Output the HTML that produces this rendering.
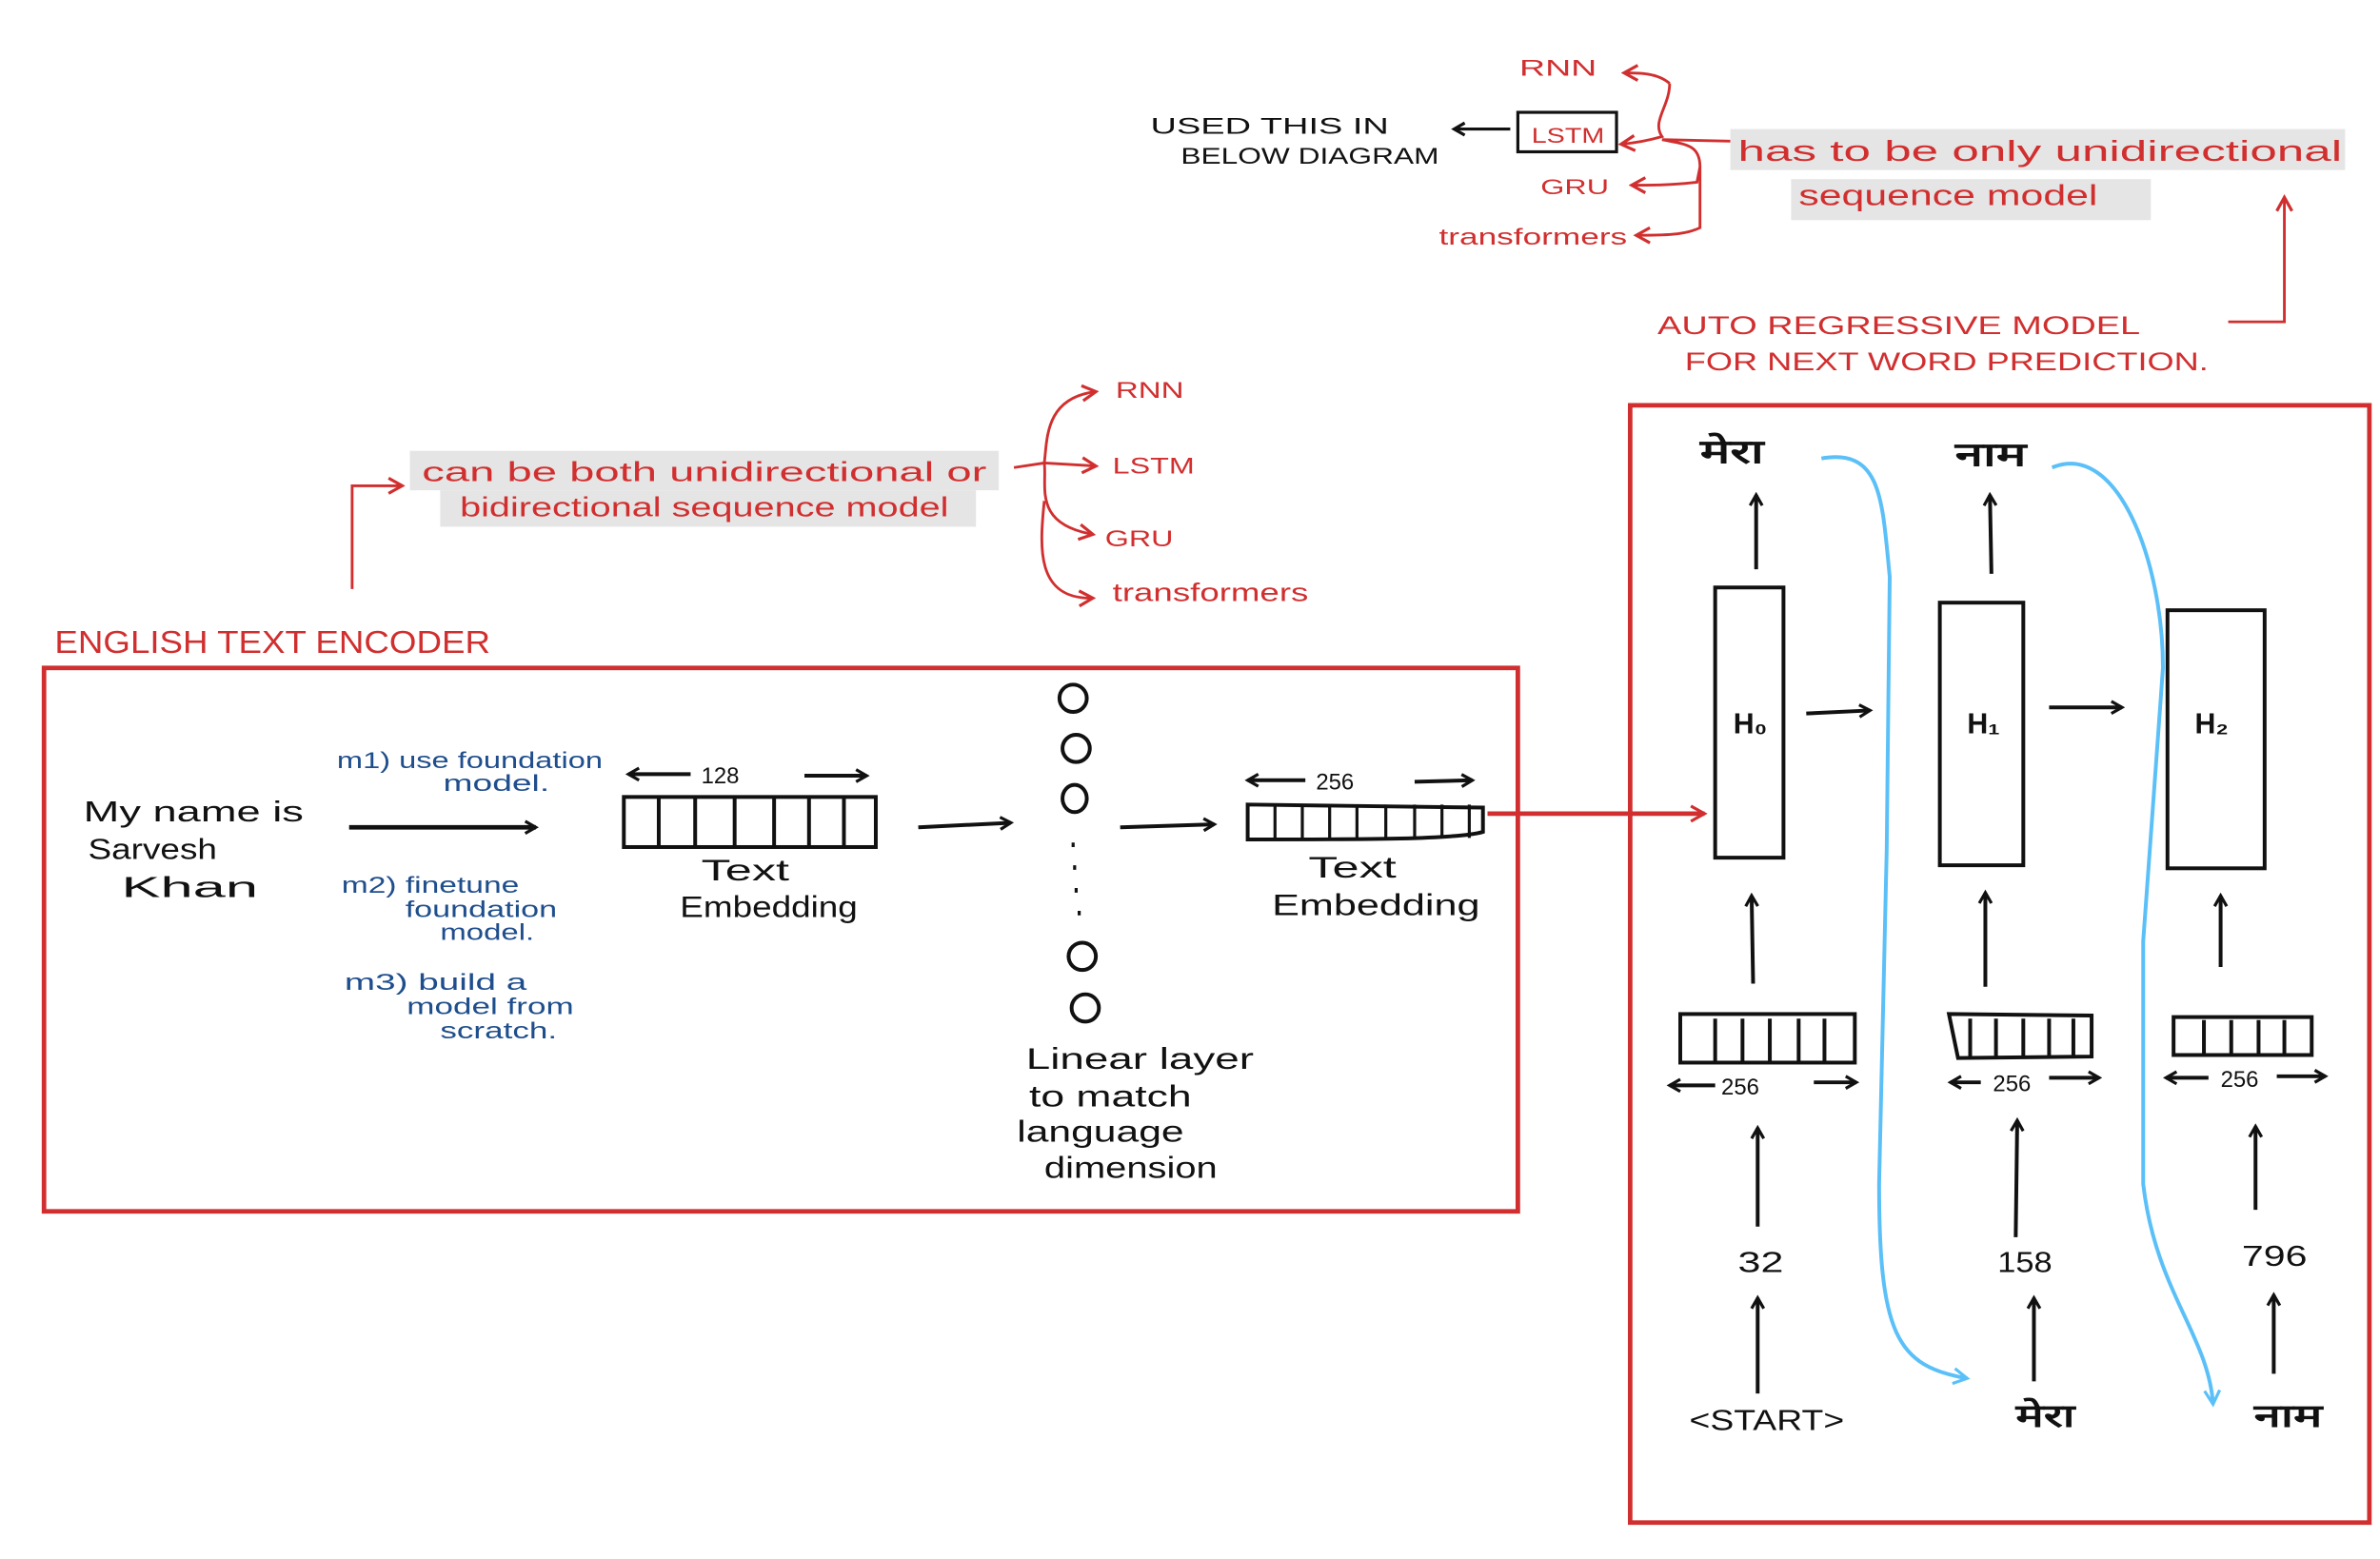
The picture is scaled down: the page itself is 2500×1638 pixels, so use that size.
<!DOCTYPE html>
<html><head><meta charset="utf-8"><style>
html,body{margin:0;padding:0;background:#fff;width:2500px;height:1638px;overflow:hidden}
svg{display:block}
text{font-family:"Liberation Sans","Noto Sans CJK SC",sans-serif}
.r{fill:#d12f2f}.k{fill:#111}.b{fill:#1f4e8c}
</style></head><body>
<svg width="2500" height="1638" viewBox="0 0 1568 1027" preserveAspectRatio="none" xmlns="http://www.w3.org/2000/svg">
<defs>
<marker id="ak" markerWidth="10" markerHeight="10" refX="8" refY="5" orient="auto" markerUnits="userSpaceOnUse"><path d="M1,1 L8,5 L1,9" fill="none" stroke="#111" stroke-width="2"/></marker>
<marker id="ar" markerWidth="12" markerHeight="12" refX="10" refY="6" orient="auto" markerUnits="userSpaceOnUse"><path d="M1,1 L10,6 L1,11" fill="none" stroke="#d12f2f" stroke-width="2"/></marker>
<marker id="ab" markerWidth="14" markerHeight="14" refX="10" refY="7" orient="auto" markerUnits="userSpaceOnUse"><path d="M1,2 L10,7 L1,12" fill="none" stroke="#5bc0f8" stroke-width="2"/></marker>
</defs>

<!-- top annotations -->
<g fill="none" stroke="#d12f2f" stroke-width="1.8">
<path d="M1100,55 C1092,48 1080,48 1070,48" marker-end="url(#ar)"/>
<path d="M1100,55 C1100,70 1088,80 1095,90 C1088,92 1080,94 1068,95" marker-end="url(#ar)"/>
<path d="M1095,92 C1110,95 1120,95 1120,110 L1118,120 C1100,122 1090,122 1075,122" marker-end="url(#ar)"/>
<path d="M1120,110 L1120,150 C1110,155 1095,155 1078,155" marker-end="url(#ar)"/>
<path d="M1095,92 L1140,93"/>
<rect x="1000" y="74" width="65" height="26" stroke="#111" stroke-width="2"/>
<path d="M1468,212 L1505,212 L1505,130" marker-end="url(#ar)"/>
</g>
<path d="M995,85 L958,85" stroke="#111" stroke-width="2" marker-end="url(#ak)"/>
<g lengthAdjust="spacingAndGlyphs">
<text x="1001" y="50" class="r" font-size="15" textLength="51" lengthAdjust="spacingAndGlyphs">RNN</text>
<text x="1009" y="94" class="r" font-size="14" textLength="48" lengthAdjust="spacingAndGlyphs">LSTM</text>
<text x="1015" y="128" class="r" font-size="14" textLength="45" lengthAdjust="spacingAndGlyphs">GRU</text>
<text x="948" y="161" class="r" font-size="15" textLength="124" lengthAdjust="spacingAndGlyphs">transformers</text>
<text x="758" y="88" class="k" font-size="15" textLength="157" lengthAdjust="spacingAndGlyphs">USED THIS IN</text>
<text x="778" y="108" class="k" font-size="15" textLength="170" lengthAdjust="spacingAndGlyphs">BELOW DIAGRAM</text>
</g>
<rect x="1140" y="85" width="405" height="27" fill="#e5e5e5"/>
<rect x="1180" y="118" width="237" height="27" fill="#e5e5e5"/>
<text x="1145" y="106" class="r" font-size="19" textLength="398" lengthAdjust="spacingAndGlyphs">has to be only unidirectional</text>
<text x="1185" y="135" class="r" font-size="19" textLength="197" lengthAdjust="spacingAndGlyphs">sequence model</text>
<text x="1092" y="220" class="r" font-size="17" textLength="318" lengthAdjust="spacingAndGlyphs">AUTO REGRESSIVE MODEL</text>
<text x="1110" y="244" class="r" font-size="17" textLength="345" lengthAdjust="spacingAndGlyphs">FOR NEXT WORD PREDICTION.</text>

<!-- middle annotations -->
<rect x="270" y="297" width="388" height="26" fill="#e5e5e5"/>
<rect x="290" y="323" width="353" height="24" fill="#e5e5e5"/>
<text x="278" y="317" class="r" font-size="18" textLength="372" lengthAdjust="spacingAndGlyphs">can be both unidirectional or</text>
<text x="303" y="340" class="r" font-size="18" textLength="322" lengthAdjust="spacingAndGlyphs">bidirectional sequence model</text>
<g fill="none" stroke="#d12f2f" stroke-width="1.8">
<path d="M232,388 L232,320 L265,320" marker-end="url(#ar)"/>
<path d="M668,308 L688,305 C690,290 688,262 722,258" marker-end="url(#ar)"/>
<path d="M688,305 L722,307" marker-end="url(#ar)"/>
<path d="M688,305 C690,320 680,345 720,352" marker-end="url(#ar)"/>
<path d="M688,330 C685,360 682,395 720,394" marker-end="url(#ar)"/>
</g>
<text x="735" y="262" class="r" font-size="15" textLength="45" lengthAdjust="spacingAndGlyphs">RNN</text>
<text x="733" y="312" class="r" font-size="15" textLength="54" lengthAdjust="spacingAndGlyphs">LSTM</text>
<text x="728" y="360" class="r" font-size="15" textLength="45" lengthAdjust="spacingAndGlyphs">GRU</text>
<text x="733" y="396" class="r" font-size="17" textLength="129" lengthAdjust="spacingAndGlyphs">transformers</text>
<text x="36" y="430" class="r" font-size="21" textLength="287" lengthAdjust="spacingAndGlyphs">ENGLISH TEXT ENCODER</text>

<!-- left box -->
<rect x="29" y="440" width="971" height="358" fill="none" stroke="#d12f2f" stroke-width="3"/>
<text x="55" y="541" class="k" font-size="19" textLength="145" lengthAdjust="spacingAndGlyphs">My  name  is</text>
<text x="58" y="566" class="k" font-size="19" textLength="85" lengthAdjust="spacingAndGlyphs">Sarvesh</text>
<text x="80" y="591" class="k" font-size="19" textLength="90" lengthAdjust="spacingAndGlyphs">Khan</text>
<path d="M230,545 L353,545" stroke="#111" stroke-width="3" marker-end="url(#ak)"/>
<text x="222" y="506" class="b" font-size="15" textLength="175" lengthAdjust="spacingAndGlyphs">m1) use foundation</text>
<text x="292" y="521" class="b" font-size="15" textLength="70" lengthAdjust="spacingAndGlyphs">model.</text>
<text x="225" y="588" class="b" font-size="15" textLength="117" lengthAdjust="spacingAndGlyphs">m2) finetune</text>
<text x="267" y="604" class="b" font-size="15" textLength="100" lengthAdjust="spacingAndGlyphs">foundation</text>
<text x="290" y="619" class="b" font-size="15" textLength="62" lengthAdjust="spacingAndGlyphs">model.</text>
<text x="227" y="652" class="b" font-size="15" textLength="120" lengthAdjust="spacingAndGlyphs">m3) build a</text>
<text x="268" y="668" class="b" font-size="15" textLength="110" lengthAdjust="spacingAndGlyphs">model from</text>
<text x="290" y="684" class="b" font-size="15" textLength="77" lengthAdjust="spacingAndGlyphs">scratch.</text>

<g stroke="#111" stroke-width="2.5" fill="none">
<rect x="411" y="525" width="166" height="33"/>
<path d="M434,525V558M458,525V558M484,525V558M510,525V558M533,525V558M556,525V558"/>
<path d="M455,510 L414,510" marker-end="url(#ak)"/><path d="M530,511 L571,511" marker-end="url(#ak)"/>
<path d="M605,545 L666,542" marker-end="url(#ak)"/>
<ellipse cx="707" cy="460" rx="9" ry="9"/><ellipse cx="709" cy="493" rx="9" ry="9"/><ellipse cx="708" cy="526" rx="8" ry="9"/>
<ellipse cx="713" cy="630" rx="9" ry="9"/><ellipse cx="715" cy="664" rx="9" ry="9"/>
<path d="M707,555v3M708,570v3M709,585v3M711,600v3" stroke-width="2"/>
<path d="M738,545 L800,543" marker-end="url(#ak)"/>
<path d="M822,530 L977,532 L977,548 C960,553 900,553 822,553Z"/>
<path d="M840,530V552M858,530V552M876,530V552M894,530V552M913,530V552M932,530V552M950,530V552M968,530V552" stroke-width="2"/>
<path d="M860,514 L822,514" marker-end="url(#ak)"/><path d="M932,515 L970,514" marker-end="url(#ak)"/>
</g>
<text x="462" y="516" class="k" font-size="15">128</text>
<text x="867" y="520" class="k" font-size="15">256</text>
<text x="462" y="580" class="k" font-size="20" textLength="58" lengthAdjust="spacingAndGlyphs">Text</text>
<text x="448" y="604" class="k" font-size="20" textLength="117" lengthAdjust="spacingAndGlyphs">Embedding</text>
<text x="862" y="578" class="k" font-size="20" textLength="58" lengthAdjust="spacingAndGlyphs">Text</text>
<text x="838" y="603" class="k" font-size="20" textLength="137" lengthAdjust="spacingAndGlyphs">Embedding</text>
<text x="676" y="704" class="k" font-size="20" textLength="150" lengthAdjust="spacingAndGlyphs">Linear  layer</text>
<text x="678" y="729" class="k" font-size="20" textLength="107" lengthAdjust="spacingAndGlyphs">to  match</text>
<text x="670" y="752" class="k" font-size="20" textLength="110" lengthAdjust="spacingAndGlyphs">language</text>
<text x="688" y="776" class="k" font-size="20" textLength="114" lengthAdjust="spacingAndGlyphs">dimension</text>
<path d="M980,536 L1123,536" stroke="#d12f2f" stroke-width="3" marker-end="url(#ar)"/>

<!-- right box -->
<rect x="1074" y="267" width="487" height="736" fill="none" stroke="#d12f2f" stroke-width="3"/>
<text x="1120" y="305" class="k" font-size="22" font-weight="bold" textLength="42" lengthAdjust="spacingAndGlyphs">मेरा</text>
<text x="1288" y="307" class="k" font-size="22" font-weight="bold" textLength="47" lengthAdjust="spacingAndGlyphs">नाम</text>
<g stroke="#111" stroke-width="2.5" fill="none">
<path d="M1157,375 L1157,326" marker-end="url(#ak)"/>
<path d="M1312,378 L1311,326" marker-end="url(#ak)"/>
<rect x="1130" y="387" width="45" height="178"/>
<rect x="1278" y="397" width="55" height="173"/>
<rect x="1428" y="402" width="64" height="170"/>
<path d="M1190,470 L1232,468" marker-end="url(#ak)"/>
<path d="M1350,466 L1398,466" marker-end="url(#ak)"/>
<path d="M1155,648 L1154,590" marker-end="url(#ak)"/>
<path d="M1308,650 L1308,588" marker-end="url(#ak)"/>
<path d="M1463,637 L1463,590" marker-end="url(#ak)"/>
<rect x="1107" y="668" width="115" height="32"/>
<path d="M1130,671V699M1148,671V699M1166,671V699M1185,671V699M1202,671V699"/>
<path d="M1284,668 L1378,669 L1378,696 L1290,697 Z"/>
<path d="M1298,671V697M1315,671V697M1333,671V697M1350,671V697M1366,671V697"/>
<rect x="1432" y="670" width="91" height="25"/>
<path d="M1452,672V694M1470,672V694M1488,672V694M1505,672V694"/>
<path d="M1130,715 L1100,715" marker-end="url(#ak)"/><path d="M1195,713 L1223,713" marker-end="url(#ak)"/>
<path d="M1305,713 L1285,713" marker-end="url(#ak)"/><path d="M1350,710 L1383,710" marker-end="url(#ak)"/>
<path d="M1455,710 L1427,710" marker-end="url(#ak)"/><path d="M1500,709 L1532,709" marker-end="url(#ak)"/>
<path d="M1158,808 L1158,743" marker-end="url(#ak)"/>
<path d="M1328,815 L1329,738" marker-end="url(#ak)"/>
<path d="M1486,797 L1486,742" marker-end="url(#ak)"/>
<path d="M1158,918 L1158,855" marker-end="url(#ak)"/>
<path d="M1340,910 L1340,855" marker-end="url(#ak)"/>
<path d="M1498,905 L1498,853" marker-end="url(#ak)"/>
</g>
<text x="1142" y="483" class="k" font-size="19" font-weight="bold">H₀</text>
<text x="1296" y="483" class="k" font-size="19" font-weight="bold">H₁</text>
<text x="1446" y="483" class="k" font-size="19" font-weight="bold">H₂</text>
<text x="1134" y="721" class="k" font-size="15">256</text>
<text x="1313" y="719" class="k" font-size="15">256</text>
<text x="1463" y="716" class="k" font-size="15">256</text>
<text x="1145" y="838" class="k" font-size="19" textLength="30" lengthAdjust="spacingAndGlyphs">32</text>
<text x="1316" y="838" class="k" font-size="19" textLength="36" lengthAdjust="spacingAndGlyphs">158</text>
<text x="1477" y="834" class="k" font-size="19" textLength="43" lengthAdjust="spacingAndGlyphs">796</text>
<text x="1113" y="942" class="k" font-size="19" textLength="102" lengthAdjust="spacingAndGlyphs">&lt;START&gt;</text>
<text x="1328" y="940" class="k" font-size="21" font-weight="bold" textLength="39" lengthAdjust="spacingAndGlyphs">मेरा</text>
<text x="1485" y="940" class="k" font-size="21" font-weight="bold" textLength="45" lengthAdjust="spacingAndGlyphs">नाम</text>
<g fill="none" stroke="#5bc0f8" stroke-width="2.5">
<path d="M1200,302 C1240,295 1240,330 1245,380 L1243,560 L1238,780 C1238,880 1250,900 1296,908" marker-end="url(#ab)"/>
<path d="M1352,308 C1395,290 1425,370 1425,440 L1412,620 L1412,780 C1420,850 1455,880 1458,925" marker-end="url(#ab)"/>
</g>
</svg>
</body></html>
